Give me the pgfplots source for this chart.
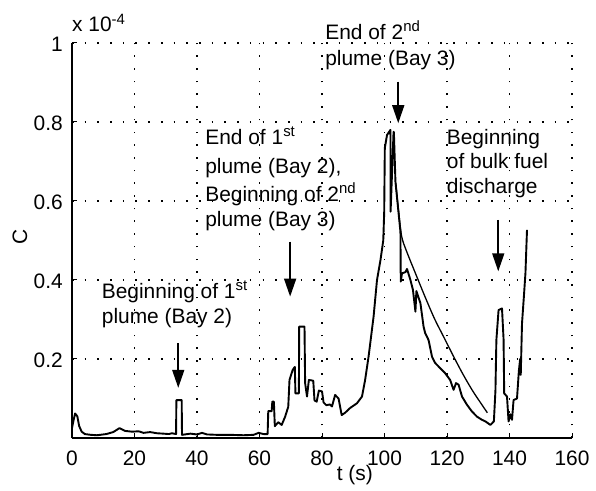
\documentclass[border=0pt]{standalone}
\usepackage{fontspec}
\setmainfont{Liberation Sans}
\usepackage{pgfplots}
\usepackage{pgfplotstable}
\pgfplotsset{compat=1.18}
\usetikzlibrary{arrows.meta}

% superscript as set in the annotations
\newcommand{\sups}[1]{\raisebox{8bp}{\fontsize{15}{15}\selectfont #1}}

% measured concentration (units of 1e-4)
\pgfplotstableread{
t C
0.0 0.025
0.5 0.045
1.0 0.062
1.7 0.055
2.3 0.030
3.1 0.016
4.1 0.010
6.0 0.008
8.0 0.007
11.0 0.010
13.2 0.015
15.2 0.025
17.0 0.018
19.2 0.016
21.3 0.017
22.9 0.013
25.0 0.015
27.2 0.012
29.3 0.011
31.0 0.010
32.0 0.012
33.3 0.010
33.4 0.096
35.1 0.096
35.2 0.008
37.9 0.011
40.0 0.009
41.6 0.013
43.2 0.009
46.4 0.008
50.6 0.008
54.9 0.007
58.1 0.008
59.7 0.013
61.3 0.010
62.6 0.010
62.8 0.068
63.9 0.068
64.1 0.092
64.6 0.092
64.9 0.030
66.0 0.040
67.1 0.033
68.2 0.054
69.2 0.079
69.6 0.147
70.6 0.172
71.3 0.180
71.5 0.113
72.6 0.113
72.7 0.282
74.4 0.282
74.6 0.139
75.2 0.105
75.8 0.147
77.2 0.145
77.6 0.095
78.3 0.092
79.0 0.120
80.0 0.118
80.5 0.090
81.4 0.083
82.5 0.085
83.2 0.080
84.2 0.109
85.3 0.100
86.3 0.058
87.4 0.064
89.0 0.076
91.2 0.088
92.8 0.105
93.8 0.147
94.9 0.206
96.5 0.307
97.6 0.400
98.7 0.450
99.6 0.500
99.9 0.570
100.1 0.734
100.8 0.767
101.9 0.780
101.95 0.573
102.9 0.775
103.0 0.775
103.5 0.649
105.1 0.522
105.2 0.396
105.6 0.417
106.7 0.420
107.2 0.428
108.3 0.400
109.1 0.375
109.9 0.320
110.2 0.372
111.5 0.341
112.5 0.282
113.0 0.266
114.1 0.248
115.2 0.206
116.2 0.190
117.8 0.177
119.4 0.164
121.0 0.147
122.1 0.122
122.9 0.139
123.7 0.135
124.8 0.105
126.4 0.084
128.0 0.067
129.6 0.054
131.2 0.046
132.3 0.042
133.9 0.033
135.0 0.042
135.5 0.120
135.8 0.248
136.5 0.324
137.6 0.328
138.1 0.250
138.3 0.113
139.2 0.105
139.7 0.042
140.3 0.060
140.8 0.046
141.3 0.096
142.4 0.100
143.0 0.170
143.4 0.200
143.6 0.160
144.0 0.290
144.6 0.358
145.1 0.417
145.6 0.527
}\measured

% model decay after the second plume
\pgfplotstableread{
t C
103.6 0.645
104.5 0.575
105.5 0.510
107.1 0.472
110.0 0.415
113.0 0.357
116.0 0.302
119.0 0.255
122.0 0.208
125.0 0.163
128.0 0.122
130.5 0.092
132.9 0.064
}\decay

\begin{document}
\begin{tikzpicture}[font=\fontsize{21}{25}\selectfont]
\begin{axis}[
  name=ax,
  scale only axis, width=500bp, height=395bp,
  xmin=0, xmax=160, ymin=0, ymax=1,
  axis x line*=bottom, axis y line*=left,
  axis line style={line width=1.3bp, -},
  xtick={0,20,...,160},
  ytick={0.2,0.4,0.6,0.8,1},
  yticklabels={0.2,0.4,0.6,0.8,1},
  tick align=inside, major tick length=5bp,
  tick style={line width=1bp, black},
  grid=major,
  grid style={black, line width=1.6bp, dash pattern=on 1.6bp off 11.1bp},
  /pgf/number format/assume math mode=true,
  ticklabel style={font=\fontsize{21}{25}\selectfont},
  xticklabel style={anchor=base, yshift=-27bp},
  yticklabel style={anchor=east, inner sep=0pt, xshift=-9bp, yshift=-1.5bp},
  xlabel={t (s)},
  xlabel style={at={([yshift=-42bp]axis cs:90.5,0)}, anchor=base, inner sep=0pt},
  ylabel={C},
  ylabel style={at={([xshift=-52bp]axis description cs:0,0.51)}, anchor=center, rotate=0},
  clip=false,
]
\addplot[black, line width=1.9bp, line join=round] table[x=t, y=C] {\measured};
\addplot[black, line width=1.3bp, smooth] table[x=t, y=C] {\decay};

% exponent of the y scale
\node[anchor=base west, inner sep=0pt] at ([yshift=11.3bp]axis description cs:0,1) {x 10\raisebox{7bp}{\fontsize{15}{15}\selectfont -4}};

% event annotations
\begin{scope}[every node/.style={anchor=base west, inner sep=0pt}]
\node at (axis cs:9.5,0.354) {Beginning of 1\sups{st}};
\node at (axis cs:9.5,0.290) {plume (Bay 2)};
\node at (axis cs:42.6,0.742) {End of 1\sups{st}};
\node at (axis cs:42.6,0.670) {plume (Bay 2),};
\node at (axis cs:42.6,0.598) {Beginning of 2\sups{nd}};
\node at (axis cs:42.6,0.535) {plume (Bay 3)};
\node at (axis cs:81,1.008) {End of 2\sups{nd}};
\node at (axis cs:81,0.944) {plume (Bay 3)};
\node at (axis cs:119.9,0.742) {Beginning};
\node at (axis cs:119.9,0.683) {of bulk fuel};
\node at (axis cs:119.9,0.619) {discharge};
\end{scope}
\begin{scope}[line width=1.6bp, -{Triangle[width=12bp,length=18bp]}]
\draw (axis cs:34,0.24) -- (axis cs:34,0.127);
\draw (axis cs:69.8,0.497) -- (axis cs:69.8,0.358);
\draw (axis cs:104.4,0.902) -- (axis cs:104.4,0.797);
\draw (axis cs:136.4,0.552) -- (axis cs:136.4,0.422);
\end{scope}
\end{axis}
\pgfresetboundingbox
\path[use as bounding box] ([shift={(-72bp,-53bp)}]ax.south west) rectangle ([shift={(24bp,43bp)}]ax.north east);
\end{tikzpicture}
\end{document}
